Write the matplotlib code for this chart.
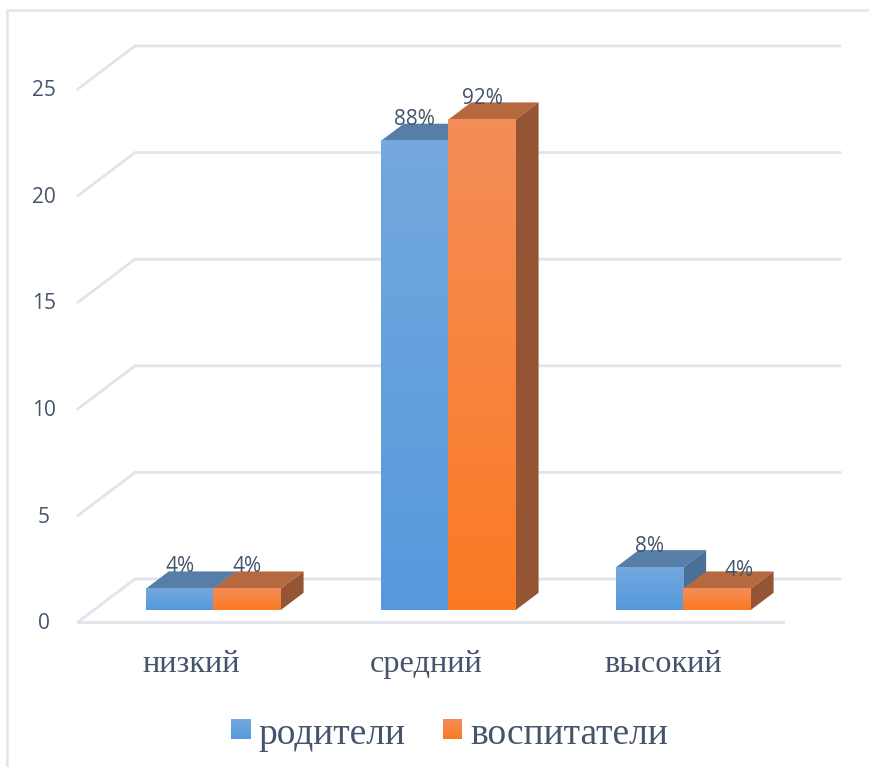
import numpy as np
import matplotlib
matplotlib.use('Agg')
import matplotlib.pyplot as plt
from matplotlib.patches import Polygon
from matplotlib.lines import Line2D
from matplotlib.colors import LinearSegmentedColormap

categories = ['низкий', 'средний', 'высокий']
series_names = ['родители', 'воспитатели']
parents = [1, 22, 2]
teachers = [1, 23, 1]
parents_labels = ['4%', '88%', '8%']
teachers_labels = ['4%', '92%', '4%']
y_ticks = [0, 5, 10, 15, 20, 25]

W, H = 869, 767
TEXT = '#44546a'
GRID = '#e1e4ec'

# oblique projection: how far the back wall is shifted, in data units
DX = 57 / 235.0
DY = 43 / 21.32
BAR_W = 0.287
Z0, Z1 = 0.28, 0.68
BAR_SHIFT = 0.008

styles = [
    dict(top='#74a8de', bottom='#5599dc', lid='#577ea6', side='#4a7096'),
    dict(top='#f38e58', bottom='#fb7a24', lid='#b6693f', side='#955535'),
]

fig = plt.figure(figsize=(W / 100, H / 100), dpi=100)
ax = fig.add_axes([78 / W, (H - 622) / H, 705 / W, 533 / H])
ax.set_xlim(-0.5, 2.5)
ax.set_ylim(0, 25)
ax.axis('off')


def proj(x, y, z):
    return (x + z * DX, y + z * DY)


def gradient(a, c1, c2, extent, zorder):
    cmap = LinearSegmentedColormap.from_list('g', [c1, c2])
    a.imshow(np.linspace(0, 1, 128).reshape(-1, 1), cmap=cmap, extent=extent,
             aspect='auto', origin='upper', zorder=zorder, clip_on=False)


# walls and gridlines
for t in y_ticks:
    p0 = proj(-0.5, t, 0)
    p1 = proj(-0.5, t, 1)
    p2 = proj(2.5, t, 1)
    ax.plot([p0[0], p1[0], p2[0]], [p0[1], p1[1], p2[1]], color=GRID, lw=2,
            solid_joinstyle='miter', clip_on=False, zorder=1)
    ax.text(-0.645, t - 0.08, str(t), ha='center', va='center', fontsize=15,
            family='Open Sans', color=TEXT)
ax.plot([-0.5, 2.5], [0, 0], color=GRID, lw=2, clip_on=False, zorder=1)


def draw_bar(x, v, st, zorder):
    x0, x1 = x, x + BAR_W
    lid = [proj(x0, v, Z0), proj(x1, v, Z0), proj(x1, v, Z1), proj(x0, v, Z1)]
    ax.add_patch(Polygon(lid, closed=True, fc=st['lid'], ec='none', zorder=zorder, clip_on=False))
    side = [proj(x1, 0, Z0), proj(x1, v, Z0), proj(x1, v, Z1), proj(x1, 0, Z1)]
    ax.add_patch(Polygon(side, closed=True, fc=st['side'], ec='none', zorder=zorder, clip_on=False))
    fx0, fy0 = proj(x0, 0, Z0)
    fx1, fy1 = proj(x1, v, Z0)
    gradient(ax, st['top'], st['bottom'], [fx0, fx1, fy0, fy1], zorder + 0.1)


# labels shift a little from bar centre in the original
label_shift = [[(0, 1.05), (0, 1.05)], [(0, 1.0), (0, 1.0)], [(0, 1.0), (0.095, 0.85)]]
cat_shift = [-0.018, -0.018, -0.008]

for i, cat in enumerate(categories):
    ax.text(i + cat_shift[i], -2.0, cat, ha='center', va='center', fontsize=23.3,
            family='Liberation Serif', color=TEXT)
    for s, (vals, labs) in enumerate(zip([parents, teachers], [parents_labels, teachers_labels])):
        x = i - BAR_W + s * BAR_W + BAR_SHIFT
        draw_bar(x, vals[i], styles[s], zorder=3 + s + i * 2)
        cx, cy = proj(x + BAR_W / 2, vals[i], Z0)
        sx, sy = label_shift[i][s]
        ax.text(cx + sx, cy + sy, labs[i], ha='center', va='center', fontsize=15,
                family='Open Sans', color=TEXT, zorder=20)

ax.set_xlim(-0.5, 2.5)
ax.set_ylim(0, 25)

# legend
for name, st, sx, tx in zip(series_names, styles, [231, 443], [258, 470]):
    sw = fig.add_axes([sx / W, (H - 739) / H, 19 / W, 20 / H])
    gradient(sw, st['top'], st['bottom'], [0, 1, 0, 1], 1)
    sw.axis('off')
    fig.text(tx / W, (H - 734.5) / H, name, ha='left', va='center', fontsize=27,
             family='Liberation Serif', color=TEXT)

# frame of the chart: only the left and top edges are in the crop
fig.add_artist(Line2D([7.5 / W, 7.5 / W, 1], [0, (H - 9.5) / H, (H - 9.5) / H],
                      transform=fig.transFigure, color='#dfe5ec', lw=1.8,
                      solid_joinstyle='miter'))

fig.savefig('out.png', dpi=100)
